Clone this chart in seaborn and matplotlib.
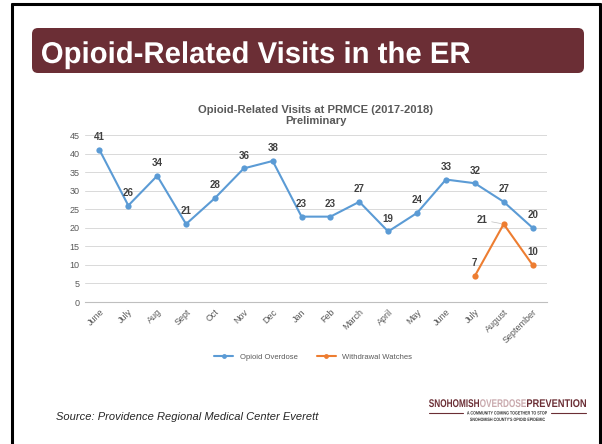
import pandas as pd
import matplotlib.pyplot as plt
import seaborn as sns
from matplotlib.patches import FancyBboxPatch, PathPatch
from matplotlib.lines import Line2D
from matplotlib.textpath import TextPath
from matplotlib.font_manager import FontProperties
from matplotlib.transforms import Affine2D

months = ['June', 'July', 'Aug', 'Sept', 'Oct', 'Nov', 'Dec', 'Jan', 'Feb',
          'March', 'April', 'May', 'June', 'July', 'August', 'September']
overdose = [41, 26, 34, 21, 28, 36, 38, 23, 23, 27, 19, 24, 33, 32, 27, 20]
withdrawal = [None] * 13 + [7, 21, 10]

blue = '#5B9BD5'
orange = '#ED7D31'
maroon = '#6B2E35'
W, H = 602, 444

sns.set_theme(style='white')
plt.rcParams['font.family'] = ['Liberation Sans', 'DejaVu Sans']

df = pd.DataFrame({'pos': range(len(months)), 'month': months,
                   'Opioid Overdose': overdose, 'Withdrawal Watches': withdrawal})

fig = plt.figure(figsize=(W / 100, H / 100), dpi=100)
px = Affine2D().scale(1 / W, 1 / H) + fig.transFigure  # pixel coords, origin bottom-left


def narrow_text(s, x0, baseline, cap_px, width_px, color, weight='bold'):
    # draw text squeezed to a given width (no condensed font installed)
    prop = FontProperties(family='Liberation Sans', weight=weight)
    tp = TextPath((0, 0), s, size=1, prop=prop)
    ext = tp.get_extents()
    sy = cap_px / 0.716
    sx = width_px / ext.width
    tr = Affine2D().translate(-ext.x0, 0).scale(sx, sy).translate(x0, H - baseline)
    fig.add_artist(PathPatch(tr.transform_path(tp), transform=px, facecolor=color,
                             edgecolor='none'))


ax = fig.add_axes([85 / W, 1 - 302 / H, 462 / W, 167 / H])

sns.lineplot(data=df, x='pos', y='Opioid Overdose', color=blue, marker='o',
             markersize=4.5, markeredgewidth=0, linewidth=1.5, ax=ax)
sns.lineplot(data=df.dropna(), x='pos', y='Withdrawal Watches', color=orange, marker='o',
             markersize=4.5, markeredgewidth=0, linewidth=1.5, ax=ax)

# data labels
for i, v in enumerate(overdose):
    ax.annotate(str(v), (i, v), xytext=(0, 5.5), textcoords='offset points',
                ha='center', va='bottom', fontsize=7, fontweight='bold', color='#404040')
for i, v in enumerate(withdrawal):
    if v is None:
        continue
    if v == 21:
        ax.annotate(str(v), (i, v), xytext=(-12, 3), textcoords='offset points',
                    ha='right', va='center', fontsize=7, fontweight='bold', color='#404040',
                    arrowprops=dict(arrowstyle='-', color='#BFBFBF', lw=0.5,
                                    shrinkA=1, shrinkB=2))
    else:
        ax.annotate(str(v), (i, v), xytext=(0, 5.5), textcoords='offset points',
                    ha='center', va='bottom', fontsize=7, fontweight='bold', color='#404040')

ax.set_xlim(-0.5, len(months) - 0.5)
ax.set_ylim(0, 45)
ax.set_yticks(range(0, 46, 5))
ax.set_xticks(range(len(months)))
ax.set_xticklabels(months, rotation=45, ha='right', rotation_mode='anchor')
ax.tick_params(axis='both', labelsize=6.5, labelcolor='#595959', length=0, pad=4)
ax.set_xlabel('')
ax.set_ylabel('')
ax.grid(axis='y', color='#D9D9D9', linewidth=0.7)
for s in ['top', 'right', 'left']:
    ax.spines[s].set_visible(False)
ax.spines['bottom'].set_color('#BFBFBF')
ax.spines['bottom'].set_linewidth(0.8)

ax.set_title('Opioid-Related Visits at PRMCE (2017-2018)\nPreliminary',
             fontsize=8.1, fontweight='bold', color='#595959', pad=8, linespacing=1.05)

handles = [Line2D([], [], color=blue, marker='o', markersize=3.5, markeredgewidth=0, linewidth=1.5),
           Line2D([], [], color=orange, marker='o', markersize=3.5, markeredgewidth=0, linewidth=1.5)]
fig.legend(handles, ['Opioid Overdose', 'Withdrawal Watches'], loc='center',
           bbox_to_anchor=(0.52, 1 - 357 / H), ncol=2, frameon=False,
           fontsize=5.5, labelcolor='#595959', handlelength=2.5, columnspacing=2.5)

# slide border
fig.add_artist(Line2D([12, 12], [0, H - 4], color='black', linewidth=2.2, transform=px))
fig.add_artist(Line2D([600, 600], [0, H - 4], color='black', linewidth=2.2, transform=px))
fig.add_artist(Line2D([12, 600], [H - 4, H - 4], color='black', linewidth=2.2, transform=px))

# title banner
banner = FancyBboxPatch((32, H - 73), 552, 45, boxstyle='round,pad=0,rounding_size=6',
                        transform=px, facecolor=maroon, edgecolor='none')
fig.add_artist(banner)
narrow_text('Opioid-Related Visits in the ER', 42, 63, 21.5, 428, 'white')

fig.text(56 / W, 1 - 417 / H, 'Source: Providence Regional Medical Center Everett',
         fontsize=8, style='italic', color='#262626', va='center')

# logo
narrow_text('SNOHOMISH', 429, 407, 8, 50, maroon)
narrow_text('OVERDOSE', 480, 407, 8, 46, '#C9A9AD')
narrow_text('PREVENTION', 527, 407, 8, 59, maroon)
narrow_text('A COMMUNITY COMING TOGETHER TO STOP', 467, 414.5, 3.4, 80, '#333333')
narrow_text("SNOHOMISH COUNTY'S OPIOID EPIDEMIC", 470, 421, 3.4, 75, '#333333')
fig.add_artist(Line2D([429, 463], [H - 413] * 2, color=maroon, linewidth=0.8, transform=px))
fig.add_artist(Line2D([551, 586], [H - 413] * 2, color=maroon, linewidth=0.8, transform=px))

fig.savefig('out.png', dpi=100)
